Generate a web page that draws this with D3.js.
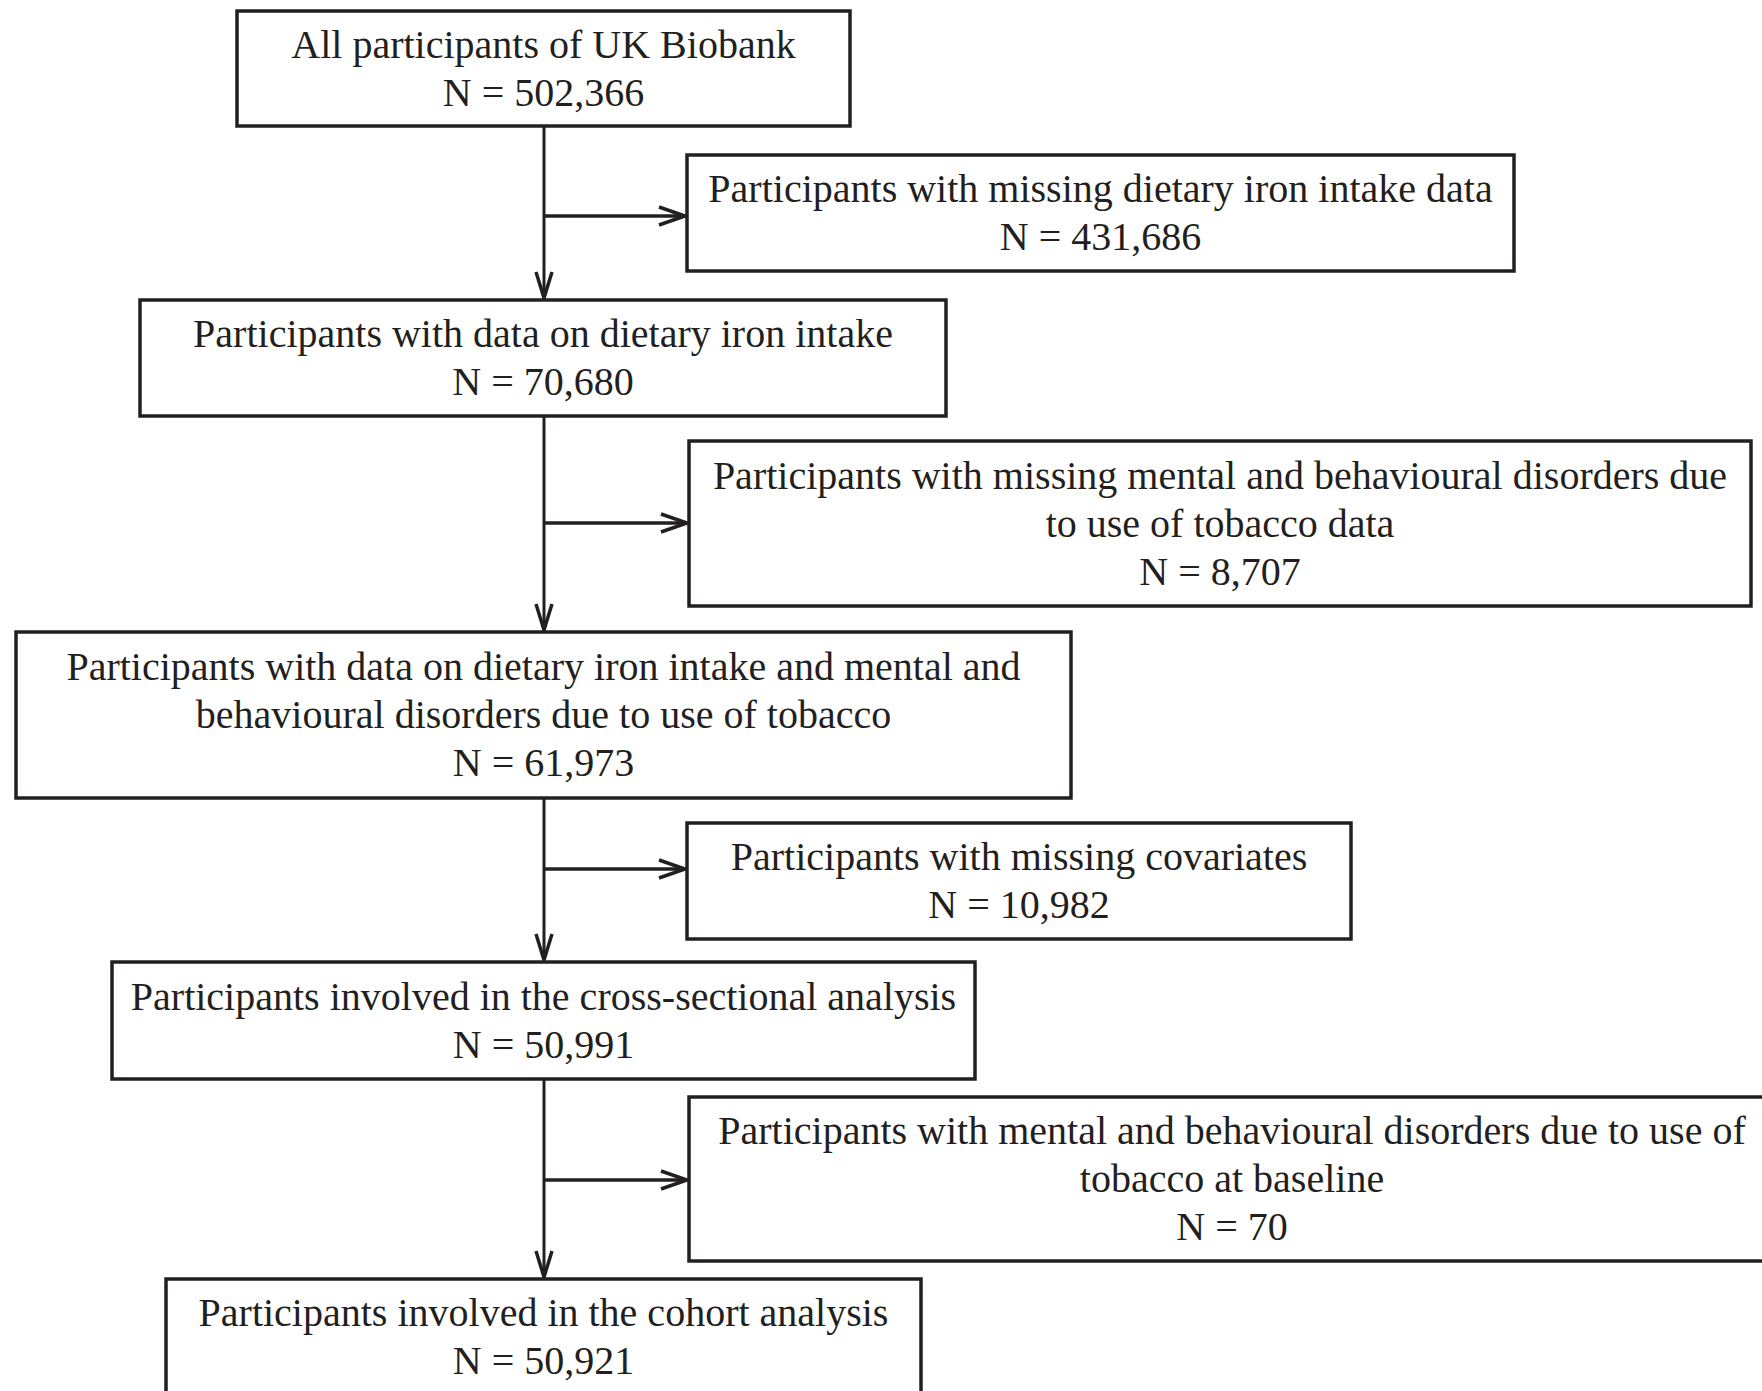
<!DOCTYPE html>
<html>
<head>
<meta charset="utf-8">
<script src="https://cdn.jsdelivr.net/npm/d3@7"></script>
<style>
  body { margin: 0; background: #fff; overflow: hidden; }
  svg text { font-family: "Liberation Serif", "Times New Roman", serif; }
</style>
</head>
<body>
<div id="chart"></div>
<script>
// Flow chart data
const mainLabels = [
    ["All participants of UK Biobank"],
    ["Participants with data on dietary iron intake"],
    ["Participants with data on dietary iron intake and mental and", "behavioural disorders due to use of tobacco"],
    ["Participants involved in the cross-sectional analysis"],
    ["Participants involved in the cohort analysis"]
];
const mainCounts = [502366, 70680, 61973, 50991, 50921];

const excludedLabels = [
    ["Participants with missing dietary iron intake data"],
    ["Participants with missing mental and behavioural disorders due", "to use of tobacco data"],
    ["Participants with missing covariates"],
    ["Participants with mental and behavioural disorders due to use of", "tobacco at baseline"]
];
const excludedCounts = [431686, 8707, 10982, 70];

// Layout (pixels): [left, right, top, bottom]
const mainBoxes = [
    [237, 850, 11, 126],
    [140, 946, 300, 416],
    [16, 1071, 632, 798],
    [112, 975, 962, 1079],
    [166, 921, 1279, 1394]
];
const excludedBoxes = [
    [687, 1514, 155, 271],
    [689, 1751, 441, 606],
    [687, 1351, 823, 939],
    [689, 1775, 1097, 1261]
];
const arrowY = [216, 523, 869, 1180];
const spineX = 544;

const width = 1762, height = 1391;
const lineHeight = 48;
const fmt = d3.format(",");
const ink = "#231f20";

const svg = d3.select("#chart").append("svg")
    .attr("width", width)
    .attr("height", height);

function drawBox(box, lines) {
    const [x0, x1, y0, y1] = box;
    svg.append("rect")
        .attr("x", x0)
        .attr("y", y0)
        .attr("width", x1 - x0)
        .attr("height", y1 - y0)
        .attr("fill", "#fff")
        .attr("stroke", ink)
        .attr("stroke-width", 3.5);

    const cx = (x0 + x1) / 2, cy = (y0 + y1) / 2;
    svg.append("text")
        .attr("text-anchor", "middle")
        .style("font-size", "40px")
        .style("fill", ink)
        .selectAll("tspan")
        .data(lines)
        .enter()
        .append("tspan")
        .attr("x", cx)
        .attr("y", (d, i) => cy + (i - (lines.length - 1) / 2) * lineHeight + 13)
        .text(d => d);
}

function arrowHead(x, y, dir) {
    // open chevron, tip at (x, y)
    const p = dir === "down"
        ? [[x - 8, y - 26], [x, y], [x + 8, y - 26]]
        : [[x - 26, y - 9], [x, y], [x - 26, y + 9]];
    svg.append("path")
        .attr("d", d3.line()(p))
        .attr("fill", "none")
        .attr("stroke", ink)
        .attr("stroke-width", 3.5)
        .attr("stroke-linejoin", "miter");
}

// vertical arrows between main boxes
for (let i = 0; i < mainBoxes.length - 1; i++) {
    const yStart = mainBoxes[i][3];
    const yEnd = mainBoxes[i + 1][2];
    svg.append("line")
        .attr("x1", spineX).attr("x2", spineX)
        .attr("y1", yStart).attr("y2", yEnd - 2)
        .attr("stroke", ink)
        .attr("stroke-width", 3);
    arrowHead(spineX, yEnd - 2, "down");
}

// side arrows to excluded boxes
excludedBoxes.forEach((b, i) => {
    svg.append("line")
        .attr("x1", spineX).attr("x2", b[0] - 2)
        .attr("y1", arrowY[i]).attr("y2", arrowY[i])
        .attr("stroke", ink)
        .attr("stroke-width", 3.5);
    arrowHead(b[0] - 2, arrowY[i], "right");
});

mainBoxes.forEach((b, i) => drawBox(b, mainLabels[i].concat(["N = " + fmt(mainCounts[i])])));
excludedBoxes.forEach((b, i) => drawBox(b, excludedLabels[i].concat(["N = " + fmt(excludedCounts[i])])));
</script>
</body>
</html>
